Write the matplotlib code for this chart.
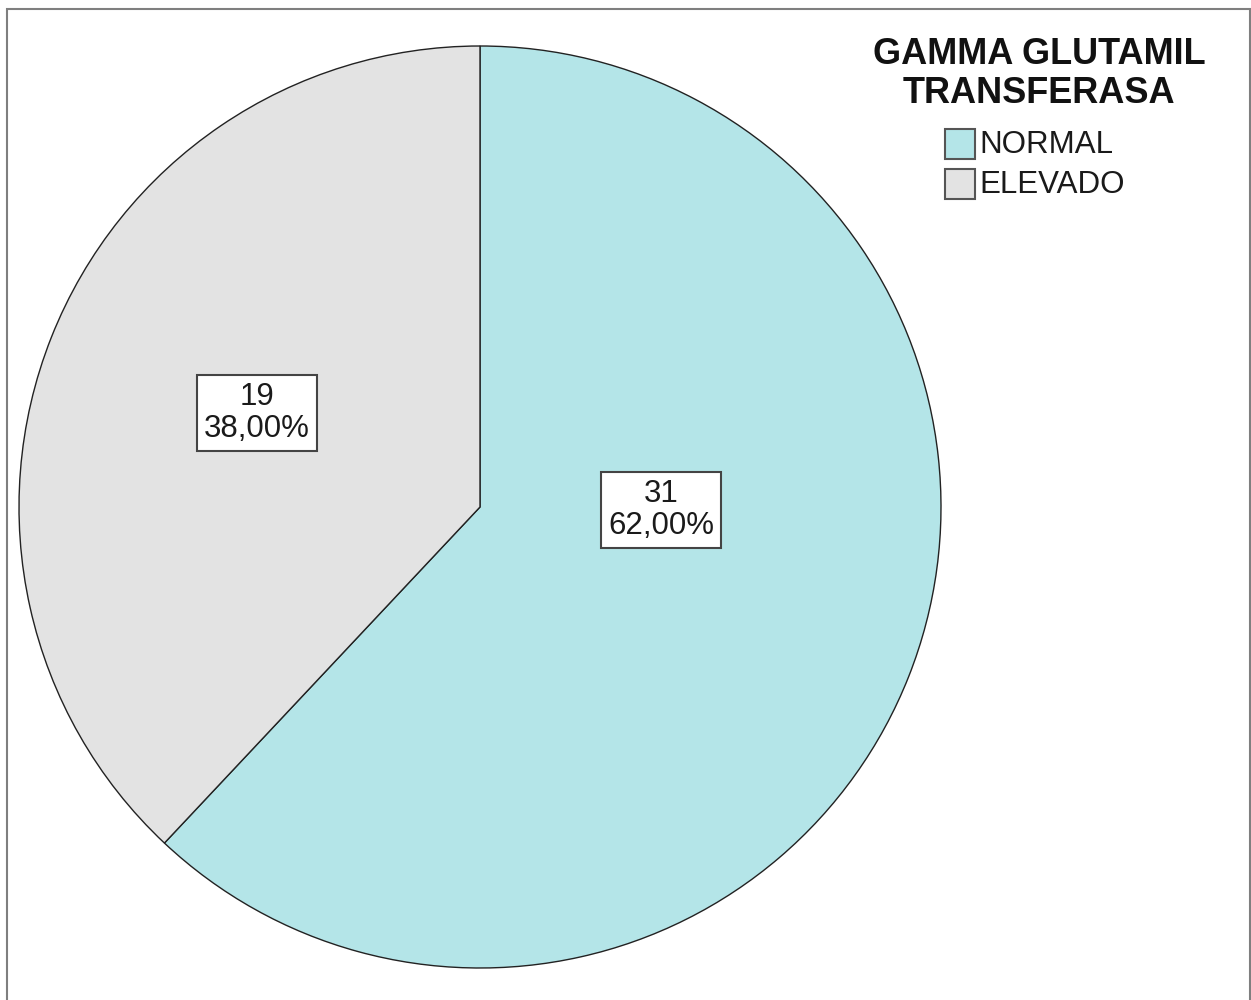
import matplotlib
matplotlib.use("Agg")
from matplotlib import pyplot as plt
from matplotlib.patches import Rectangle

plt.rcParams['font.family'] = ['Liberation Sans', 'DejaVu Sans']

# gamma glutamil transferasa counts
categorias = ['NORMAL', 'ELEVADO']
conteos = [31, 19]
porcentajes = ['62,00%', '38,00%']
colores = ['#b4e5e8', '#e3e3e3']
titulo = 'GAMMA GLUTAMIL\nTRANSFERASA'

W, H = 1251, 1000
fig = plt.figure(figsize=(W / 100, H / 100), dpi=100)
ax = fig.add_axes([0, 0, 1, 1])
ax.set_xlim(0, W)
ax.set_ylim(0, H)
ax.set_aspect('equal')
ax.axis('off')

# outer frame
ax.add_patch(Rectangle((7, -10), 1243, H - 9 + 10, fill=False,
                       edgecolor='#7f7f7f', linewidth=1.5, clip_on=False))

cx, cy, r = 480, H - 507, 461
wedges, _ = ax.pie(conteos, colors=colores, startangle=90, counterclock=False,
                   center=(cx, cy), radius=r,
                   wedgeprops=dict(edgecolor='#222222', linewidth=1.0))
ax.set_xlim(0, W)
ax.set_ylim(0, H)

# value boxes
pos_etiquetas = [(661, H - 510), (257, H - 413)]
for (x, y), n, p in zip(pos_etiquetas, conteos, porcentajes):
    ax.text(x, y, f'{n}\n{p}', ha='center', va='center', fontsize=22.5,
            linespacing=1.12, color='#1a1a1a',
            bbox=dict(boxstyle='square,pad=0.22', facecolor='white',
                      edgecolor='#444444', linewidth=1.5))

# legend
ax.text(1039, H - 74, titulo, ha='center', va='center', fontsize=26,
        fontweight='bold', linespacing=1.14, color='#111111')
for i, (cat, col) in enumerate(zip(categorias, colores)):
    y0 = H - 159 - 40 * i
    ax.add_patch(Rectangle((945, y0), 30, 30, facecolor=col,
                           edgecolor='#555555', linewidth=1.5))
    ax.text(979, y0 + 14, cat, ha='left', va='center', fontsize=22.5,
            color='#1a1a1a')

fig.savefig('out.png', dpi=100)
